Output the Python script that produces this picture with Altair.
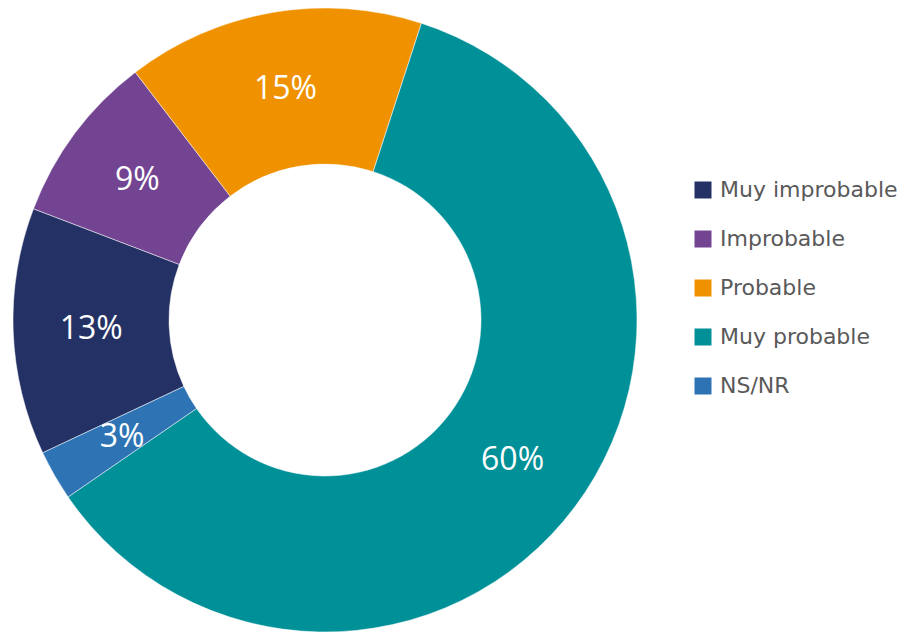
import math
import altair as alt
import pandas as pd

categories = ["Muy improbable", "Improbable", "Probable", "Muy probable", "NS/NR"]
values = [12.8, 8.8, 15.4, 60.4, 2.6]
colors = ["#243164", "#724492", "#F09200", "#009098", "#2E74B5"]

df = pd.DataFrame({
    "cat": categories,
    "val": values,
    "ord": list(range(len(categories))),
})
df["label"] = [f"{round(v):.0f}%" for v in values]

start = math.radians(244.8)
theta_scale = alt.Scale(domain=[0, 100], range=[start, start + 2 * math.pi])
cx, cy = 317, 312

base = alt.Chart(df).encode(
    theta=alt.Theta("val:Q", stack=True, scale=theta_scale),
    order=alt.Order("ord:Q"),
)

arcs = base.mark_arc(outerRadius=312, innerRadius=156, stroke="white", strokeWidth=0.5).encode(
    x=alt.value(cx),
    y=alt.value(cy),
    color=alt.Color(
        "cat:N",
        sort=categories,
        scale=alt.Scale(domain=categories, range=colors),
        legend=alt.Legend(
            title=None,
            orient="none",
            legendX=684,
            legendY=171,
            direction="vertical",
            symbolType="square",
            symbolSize=289,
            symbolStrokeWidth=0,
            labelFont="DejaVu Sans",
            labelFontSize=22,
            labelColor="#595959",
            labelOffset=6,
            rowPadding=27,
            padding=0,
            labelLimit=400,
        ),
    ),
)

labels = base.mark_text(
    radius=234, font="Open Sans", fontSize=32, color="white", align="center", baseline="middle"
).encode(
    x=alt.value(cx),
    y=alt.value(cy),
    text="label:N",
)

chart = (arcs + labels).properties(
    width=901, height=625, autosize=alt.AutoSizeParams(type="none"), padding=0
).configure_view(stroke=None)

chart.save("out.html", embed_options={"renderer": "svg", "actions": False})
